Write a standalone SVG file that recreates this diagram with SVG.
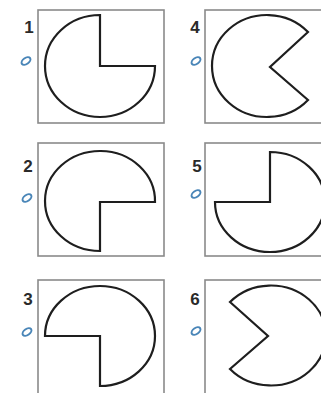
<svg xmlns="http://www.w3.org/2000/svg" width="321" height="393" viewBox="0 0 321 393">
<style>
.frame{fill:none;stroke:#8a8a8a;stroke-width:1.6}
.shape{fill:#fff;stroke:#1e1e1e;stroke-width:2.2;stroke-linejoin:miter}
.num{font-family:"Liberation Sans",Arial,sans-serif;font-size:17px;font-weight:bold;fill:#2a2a2a;text-anchor:middle}
.rot{fill:none;stroke:#4a86b8;stroke-width:2}
</style>
<rect width="321" height="393" fill="#fff"/>
<g id="panel1">
<rect class="frame" x="38" y="10" width="126" height="113"/>
<path class="shape" d="M100,15 L100,66 L155,66 A55,51 0 1 1 100,15 Z"/>
<text class="num" x="29" y="33">1</text>
<ellipse class="rot" cx="26" cy="61" rx="5" ry="3" transform="rotate(-35 26 61)"/>
</g>
<g id="panel4">
<rect class="frame" x="205" y="10" width="126" height="113"/>
<path class="shape" d="M308,32 L270,67 L308,100 A55,51 0 1 1 308,32 Z"/>
<text class="num" x="195" y="33">4</text>
<ellipse class="rot" cx="196" cy="61" rx="5" ry="3" transform="rotate(-35 196 61)"/>
</g>
<g id="panel2">
<rect class="frame" x="38" y="143" width="126" height="113"/>
<path class="shape" d="M155,202 L100,202 L100,251 A55,50 0 1 1 155,202 Z"/>
<text class="num" x="28" y="172">2</text>
<ellipse class="rot" cx="27" cy="198" rx="5" ry="3" transform="rotate(-35 27 198)"/>
</g>
<g id="panel5">
<rect class="frame" x="205" y="143" width="126" height="113"/>
<path class="shape" d="M215,202 L270,202 L270,152 A55,50 0 1 1 215,202 Z"/>
<text class="num" x="197" y="172">5</text>
<ellipse class="rot" cx="196" cy="194" rx="5" ry="3" transform="rotate(-35 196 194)"/>
</g>
<g id="panel3">
<rect class="frame" x="38" y="280" width="126" height="120"/>
<path class="shape" d="M100,386 L100,336 L45,336 A55,50 0 1 1 100,386 Z"/>
<text class="num" x="28" y="305">3</text>
<ellipse class="rot" cx="27" cy="332" rx="5" ry="3" transform="rotate(-35 27 332)"/>
</g>
<g id="panel6">
<rect class="frame" x="205" y="280" width="126" height="120"/>
<path class="shape" d="M230,302 L268,336 L230,369 A55,50 0 1 0 230,302 Z"/>
<text class="num" x="195" y="305">6</text>
<ellipse class="rot" cx="196" cy="331" rx="5" ry="3" transform="rotate(-35 196 331)"/>
</g>
<g id="connectors"></g>
</svg>
